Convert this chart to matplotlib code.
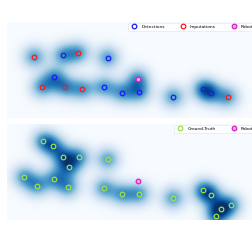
import numpy as np
import matplotlib
matplotlib.use("Agg")
import matplotlib.pyplot as plt

# map extent (m)
x_max, y_max = 20.0, 8.0

det_x = [4.50, 8.09, 3.78, 7.79, 9.26, 10.63, 13.36, 15.77, 16.36]
det_y = [5.25, 5.03, 3.39, 2.58, 2.11, 2.14, 1.75, 2.44, 2.06]

imp_x = [2.17, 5.73, 2.79, 4.66, 6.05, 17.73]
imp_y = [5.11, 5.44, 2.56, 2.56, 2.39, 1.73]

gt_x = [2.92, 3.69, 4.50, 5.76, 4.96, 8.09, 1.37, 2.39, 3.80, 4.90,
        7.79, 9.26, 10.63, 13.36, 15.77, 16.36, 17.16, 17.99, 16.81]
gt_y = [6.61, 6.17, 5.28, 5.28, 4.39, 5.06, 3.61, 2.86, 3.44, 2.73,
        2.64, 2.14, 2.17, 1.81, 2.48, 2.08, 0.92, 1.25, 0.31]

robot_x = [10.50]
robot_y = [3.28]

sigma = 0.68


def density(xs, ys):
    gx = np.linspace(0, x_max, 400)
    gy = np.linspace(0, y_max, 160)
    X, Y = np.meshgrid(gx, gy)
    Z = np.zeros_like(X)
    for x, y in zip(xs, ys):
        Z += np.exp(-((X - x) ** 2 + (Y - y) ** 2) / (2 * sigma ** 2))
    return Z


fig = plt.figure(figsize=(2.52, 2.4), dpi=100)
ax1 = fig.add_axes([7 / 252, 122 / 240, 249 / 252, 96 / 240])
ax2 = fig.add_axes([7 / 252, 20 / 240, 249 / 252, 96 / 240])

ms = 3.3
mew = 0.9

# top: detections + imputations
Z1 = density(det_x + imp_x + robot_x, det_y + imp_y + robot_y)
ax1.imshow(Z1, origin="lower", extent=(0, x_max, 0, y_max), cmap="Blues",
           vmin=0, vmax=1.85, aspect="auto", interpolation="bilinear")
ax1.plot(det_x, det_y, "o", mfc="none", mec="#1a1aff", ms=ms, mew=mew,
         label="Detections", linestyle="none")
ax1.plot(imp_x, imp_y, "o", mfc="none", mec="#ff1a1a", ms=ms, mew=mew,
         label="Imputations", linestyle="none")
ax1.plot(robot_x, robot_y, "o", mfc="#f4a6e6", mec="#e01cc8", ms=ms, mew=mew,
         label="Robot", linestyle="none")

# bottom: ground truth
Z2 = density(gt_x, gt_y)
ax2.imshow(Z2, origin="lower", extent=(0, x_max, 0, y_max), cmap="Blues",
           vmin=0, vmax=1.85, aspect="auto", interpolation="bilinear")
ax2.plot(gt_x, gt_y, "o", mfc="none", mec="#9be33c", ms=ms, mew=mew,
         label="Ground-Truth", linestyle="none")
ax2.plot(robot_x, robot_y, "o", mfc="#f4a6e6", mec="#e01cc8", ms=ms, mew=mew,
         label="Robot", linestyle="none")

for ax in (ax1, ax2):
    ax.set_xlim(0, x_max)
    ax.set_ylim(0, y_max)
    ax.axis("off")
    leg = ax.legend(loc="upper right", ncol=3, fontsize=3.2, frameon=True,
                    borderaxespad=0.15, handletextpad=0.6, columnspacing=3.0,
                    borderpad=0.5, fancybox=False)
    leg.get_frame().set_linewidth(0.4)
    leg.get_frame().set_edgecolor("#dddddd")

fig.savefig("out.png", dpi=100)
